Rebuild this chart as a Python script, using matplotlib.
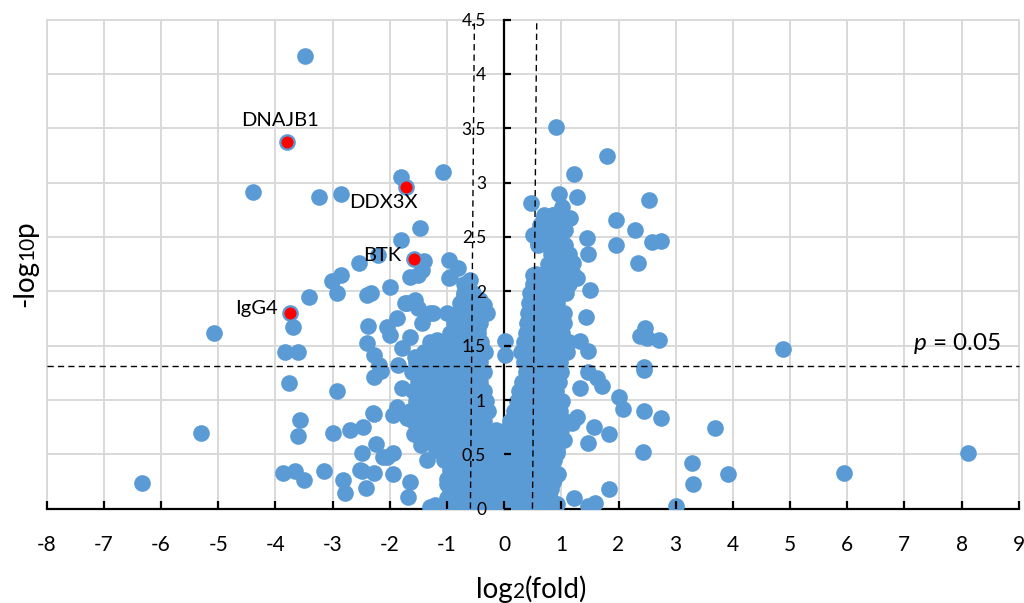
import matplotlib
matplotlib.use('Agg')
import matplotlib.pyplot as plt
from matplotlib.transforms import IdentityTransform

plt.rcParams['font.family'] = ['Lato', 'DejaVu Sans']
plt.rcParams['mathtext.fontset'] = 'custom'
plt.rcParams['mathtext.rm'] = 'Lato'
plt.rcParams['mathtext.it'] = 'Lato:italic'
plt.rcParams['axes.unicode_minus'] = False

BLUE = '#5B9BD5'
GRID = '#D9D9D9'

# proteins away from the main cloud, log2(fold) / -log10(p)
left_x = [-3.48, -4.40, -3.23, -2.855, -1.806, -1.07, -1.47, -1.806, -2.21, -2.54,
          -2.855, -3.01, -2.92, -3.42, -2.325, -1.99, -1.64, -1.50, -1.40, -1.44,
          -0.956, -0.80, -0.973, -0.71, -0.55, -0.50, -3.70, -5.08, -3.84, -3.61,
          -3.76, -2.93, -5.31, -3.57, -3.61, -3.00, -2.69, -2.46, -2.27, -6.33,
          -3.86, -3.66, -3.50, -3.15, -2.81, -2.78, -2.42, -2.49, -2.24, -2.28,
          -2.49, -2.11, -1.94, -1.95, -1.64, -1.69, -1.21, -2.39, -2.38, -2.05,
          -1.99, -1.87, -2.40, -2.28, -2.19, -2.28, -2.15, -1.79, -1.64, -1.73,
          -1.56, -1.50, -1.44, -1.24, -1.18, -1.56, -1.85, -1.79, -1.88, -1.94,
          -1.70, -1.58, -1.35, -1.46, -1.00, -1.00, -0.71, -0.36, -0.30, -0.45,
          -0.40, -2.29, -2.05, -2.52, -0.94, -0.59, -0.42, -1.29, -1.70]
left_y = [4.165, 2.916, 2.87, 2.895, 3.054, 3.095, 2.585, 2.472, 2.331, 2.257,
          2.15, 2.095, 1.98, 1.95, 1.98, 2.04, 2.13, 2.15, 2.28, 2.20,
          2.288, 2.21, 2.12, 2.07, 1.95, 1.93, 1.675, 1.613, 1.444, 1.444,
          1.16, 1.083, 0.693, 0.816, 0.672, 0.70, 0.724, 0.754, 0.868, 0.24,
          0.326, 0.35, 0.264, 0.35, 0.264, 0.142, 0.188, 0.51, 0.595, 0.331,
          0.35, 0.478, 0.51, 0.32, 0.25, 0.11, 0.034, 1.966, 1.68, 1.675,
          1.598, 1.75, 1.52, 1.414, 1.32, 1.214, 1.27, 1.476, 1.58, 1.89,
          1.92, 1.85, 1.705, 1.80, 1.55, 1.40, 1.32, 1.108, 0.94, 0.86,
          0.83, 0.69, 0.45, 0.59, 0.23, 1.80, 1.97, 1.874, 1.80, 1.66,
          1.50, 0.88, 0.48, 0.355, 2.13, 2.10, 1.92, 1.80, 1.89]

right_x = [0.90, 1.795, 1.224, 0.962, 1.27, 0.472, 2.54, 1.02, 1.96, 2.29,
           1.15, 0.687, 0.862, 1.066, 0.513, 0.60, 1.445, 1.474, 1.95, 2.58,
           2.75, 2.34, 1.21, 0.51, 0.67, 1.28, 1.50, 1.43, 2.465, 2.38,
           2.70, 2.49, 4.88, 1.33, 1.47, 0.02, 0.02, 2.45, 2.44, 1.47,
           1.62, 1.72, 1.33, 2.00, 2.07, 2.44, 2.74, 3.69, 1.57, 1.84,
           1.47, 2.42, 8.12, 3.28, 3.31, 3.91, 5.94, 3.00, 1.84, 1.22,
           1.47, 1.59, 0.92, 1.27, 1.18, 0.92, 0.95, 0.86, 0.95, 0.862,
           0.747]
right_y = [3.514, 3.248, 3.08, 2.892, 2.87, 2.81, 2.84, 2.78, 2.66, 2.564,
           2.67, 2.656, 2.70, 2.564, 2.518, 2.44, 2.49, 2.34, 2.426, 2.456,
           2.466, 2.257, 2.257, 2.15, 2.15, 2.125, 2.01, 1.76, 1.66, 1.59,
           1.55, 1.57, 1.47, 1.54, 1.45, 1.54, 1.41, 1.276, 1.30, 1.26,
           1.20, 1.13, 1.108, 1.03, 0.92, 0.90, 0.83, 0.74, 0.75, 0.69,
           0.60, 0.525, 0.515, 0.417, 0.224, 0.316, 0.325, 0.025, 0.178, 0.095,
           0.025, 0.055, 0.043, 0.846, 0.786, 0.51, 0.316, 0.25, 2.41, 2.35,
           2.49]

# main cloud of unchanged proteins, one row per -log10(p) level
core_rows = [
    (0.02, [-1.30, -1.10, -0.95, -0.80, -0.65, -0.50, -0.35, -0.20, -0.05, 0.10, 0.25, 0.40, 0.55, 0.70, 0.85]),
    (0.10, [-1.00, -0.85, -0.70, -0.55, -0.40, -0.25, -0.10, 0.05, 0.20, 0.35, 0.50, 0.65, 0.80]),
    (0.18, [-0.95, -0.78, -0.62, -0.46, -0.30, -0.14, 0.02, 0.18, 0.34, 0.50, 0.66, 0.82]),
    (0.27, [-1.00, -0.84, -0.68, -0.52, -0.36, -0.20, -0.04, 0.12, 0.28, 0.44, 0.60, 0.76, 0.88]),
    (0.36, [-0.95, -0.80, -0.64, -0.48, -0.32, -0.16, 0.00, 0.16, 0.32, 0.48, 0.64, 0.80]),
    (0.45, [-1.05, -0.88, -0.72, -0.56, -0.40, -0.24, -0.08, 0.08, 0.24, 0.40, 0.56, 0.72, 0.88]),
    (0.54, [-1.20, -1.02, -0.85, -0.68, -0.52, -0.36, -0.20, -0.04, 0.12, 0.28, 0.44, 0.60, 0.76, 0.92]),
    (0.63, [-1.45, -1.25, -1.05, -0.88, -0.72, -0.56, -0.40, -0.24, -0.08, 0.08, 0.24, 0.40, 0.56, 0.72, 0.88, 1.04]),
    (0.72, [-1.50, -1.30, -1.12, -0.95, -0.78, -0.62, -0.46, -0.30, -0.14, 0.04, 0.20, 0.36, 0.52, 0.68, 0.84, 1.00]),
    (0.81, [-1.60, -1.40, -1.20, -1.02, -0.85, -0.68, -0.52, -0.36, 0.10, 0.26, 0.42, 0.58, 0.74, 0.90, 1.06]),
    (0.90, [-1.65, -1.45, -1.25, -1.05, -0.88, -0.72, -0.56, -0.40, -0.28, 0.18, 0.34, 0.50, 0.66, 0.82, 0.98]),
    (0.99, [-1.55, -1.35, -1.15, -0.98, -0.80, -0.64, -0.48, -0.32, 0.22, 0.38, 0.54, 0.70, 0.86, 1.02]),
    (1.08, [-1.60, -1.40, -1.20, -1.02, -0.85, -0.68, -0.52, -0.36, 0.26, 0.42, 0.58, 0.74, 0.90]),
    (1.17, [-1.50, -1.28, -1.10, -0.92, -0.75, -0.58, -0.42, 0.32, 0.48, 0.64, 0.80, 0.96]),
    (1.26, [-1.62, -1.42, -1.22, -1.02, -0.84, -0.66, -0.50, -0.36, 0.38, 0.54, 0.70, 0.86, 1.00]),
    (1.35, [-1.55, -1.35, -1.15, -0.95, -0.76, -0.58, -0.42, 0.34, 0.50, 0.66, 0.82, 0.98]),
    (1.44, [-1.40, -1.20, -1.00, -0.82, -0.64, -0.48, -0.34, 0.30, 0.46, 0.62, 0.78, 0.94, 1.10]),
    (1.53, [-1.30, -1.10, -0.92, -0.74, -0.56, -0.40, 0.34, 0.50, 0.66, 0.82, 0.98, 1.14]),
    (1.62, [-0.95, -0.78, -0.62, -0.46, 0.38, 0.54, 0.70, 0.86, 1.02]),
    (1.71, [-0.88, -0.72, -0.56, -0.42, 0.40, 0.56, 0.72, 0.88, 1.04]),
    (1.80, [-0.80, -0.64, -0.48, 0.42, 0.58, 0.74, 0.90, 1.04]),
    (1.89, [-0.78, -0.62, -0.46, 0.44, 0.60, 0.76, 0.92]),
    (1.98, [-0.70, -0.54, 0.46, 0.62, 0.78, 0.94, 1.08]),
    (2.07, [0.50, 0.66, 0.82, 0.98, 1.14]),
    (2.16, [0.56, 0.72, 0.88, 1.04, 1.20]),
    (2.25, [0.76, 0.92, 1.08]),
    (2.34, [0.82, 0.98, 1.14]),
    (2.43, [0.60, 0.76, 0.92, 1.06]),
    (2.52, [0.52, 0.68, 0.84, 1.00]),
    (2.61, [0.62, 0.78, 0.94]),
    (2.70, [0.70, 0.86, 1.02]),
]

genes = ['DNAJB1', 'DDX3X', 'BTK', 'IgG4']
gene_x = [-3.80, -1.72, -1.568, -3.75]
gene_y = [3.376, 2.962, 2.297, 1.797]
gene_offset = [(-7, 21), (-22, -16), (-32, 4), (-33, 5)]

p_cut = 1.31
fold_lo = (-0.59, -0.52)
fold_hi = (0.495, 0.57)

xs = left_x + right_x + gene_x
ys = left_y + right_y + gene_y
for lvl, row in core_rows:
    xs += row
    ys += [lvl] * len(row)

fig = plt.figure(figsize=(10.24, 6.03), dpi=100)
ax = fig.add_axes([0.0456, 0.1564, 0.9493, 0.8111])
ax.set_xlim(-8, 9)
ax.set_ylim(0, 4.5)

xticks = list(range(-8, 10))
yticks = [0, 0.5, 1, 1.5, 2, 2.5, 3, 3.5, 4, 4.5]
for v in xticks:
    ax.axvline(v, color=GRID, lw=1.4, zorder=0, clip_on=False)
for v in yticks[1:]:
    ax.axhline(v, color=GRID, lw=1.4, zorder=0, clip_on=False)

ax.spines['top'].set_visible(False)
ax.spines['right'].set_visible(False)
ax.spines['left'].set_position(('data', 0))
for s in ('left', 'bottom'):
    ax.spines[s].set_linewidth(1.6)
    ax.spines[s].set_zorder(1.5)

ax.scatter(xs, ys, s=144, color=BLUE, linewidths=0, zorder=2)
ax.scatter(gene_x, gene_y, s=75, color='#FF0000', linewidths=0, zorder=2.2)

dash = (0, (4.5, 3))
ax.plot([-8, 9], [p_cut, p_cut], color='black', lw=1, ls=dash, zorder=4, clip_on=False)
ax.plot(fold_lo, [0, 4.5], color='black', lw=1, ls=dash, zorder=4)
ax.plot(fold_hi, [0, 4.5], color='black', lw=1, ls=dash, zorder=4)

ax.set_xticks(xticks)
ax.set_yticks(yticks, labels=['%g' % v for v in yticks])
ax.tick_params(axis='x', direction='in', length=6, width=1.6, labelsize=15, pad=19)
ax.tick_params(axis='y', direction='in', length=5, width=1.6, labelsize=12.5, pad=13)
ax.xaxis.set_zorder(3)
ax.yaxis.set_zorder(3)

for name, gx, gy, off in zip(genes, gene_x, gene_y, gene_offset):
    ax.annotate(name, (gx, gy), xytext=off, textcoords='offset pixels',
                ha='center', va='center', fontsize=14.5, zorder=5)

ax.text(7.91, 1.518, r'$p$ = 0.05', ha='center', va='center', fontsize=17.5, zorder=5)


def piece_label(parts, x0, y0, vertical=False):
    # axis title made of pieces with different sizes on one baseline
    r = fig.canvas.get_renderer()
    widths = []
    for s, fs in parts:
        t = fig.text(0, 0, s, fontsize=fs)
        widths.append(t.get_window_extent(r).width)
        t.remove()
    pos = -sum(widths) / 2
    for (s, fs), w in zip(parts, widths):
        if vertical:
            fig.text(x0, y0 + pos, s, fontsize=fs, rotation=90, rotation_mode='anchor',
                     ha='left', va='baseline', transform=IdentityTransform())
        else:
            fig.text(x0 + pos, y0, s, fontsize=fs, ha='left', va='baseline',
                     transform=IdentityTransform())
        pos += w


piece_label([('log', 20), ('2', 15), ('(fold)', 20)], 532, 5)
piece_label([('-log', 20), ('10', 15), ('p', 20)], 33, 339, vertical=True)

fig.savefig('out.png', dpi=100)
